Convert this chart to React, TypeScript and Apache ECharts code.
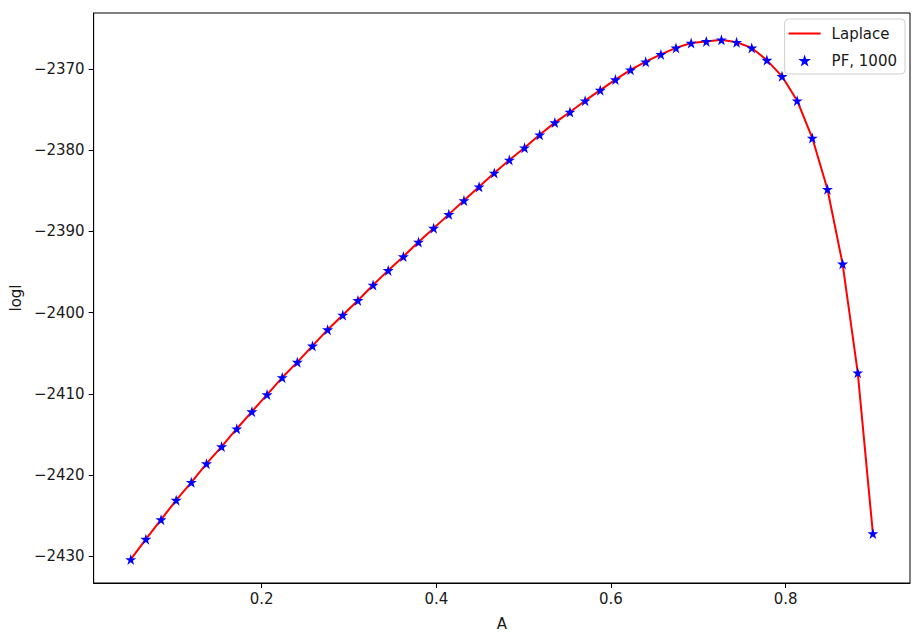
import React, { useEffect, useRef } from "react";
import * as echarts from "echarts";

const aValues: number[] = [
  0.05, 0.06735, 0.08469, 0.10204, 0.11939, 0.13673, 0.15408, 0.17143, 0.18878, 0.20612,
  0.22347, 0.24082, 0.25816, 0.27551, 0.29286, 0.31020, 0.32755, 0.34490, 0.36224, 0.37959,
  0.39694, 0.41429, 0.43163, 0.44898, 0.46633, 0.48367, 0.50102, 0.51837, 0.53571, 0.55306,
  0.57041, 0.58776, 0.60510, 0.62245, 0.63980, 0.65714, 0.67449, 0.69184, 0.70918, 0.72653,
  0.74388, 0.76122, 0.77857, 0.79592, 0.81327, 0.83061, 0.84796, 0.86531, 0.88265, 0.9,
];

const laplaceValues: number[] = [
  -2430.4, -2427.9, -2425.5, -2423.1, -2420.9, -2418.6, -2416.5, -2414.3, -2412.2, -2410.1,
  -2408.0, -2406.1, -2404.1, -2402.1, -2400.3, -2398.5, -2396.6, -2394.8, -2393.1, -2391.3,
  -2389.6, -2387.9, -2386.2, -2384.5, -2382.8, -2381.2, -2379.7, -2378.1, -2376.6, -2375.3,
  -2373.9, -2372.6, -2371.3, -2370.1, -2369.1, -2368.2, -2367.4, -2366.8, -2366.6, -2366.4,
  -2366.7, -2367.4, -2368.9, -2370.9, -2373.9, -2378.5, -2384.8, -2394.0, -2407.4, -2427.2,
];

const pfValues: number[] = laplaceValues.slice();

const xTicks: number[] = [0.2, 0.4, 0.6, 0.8];
const yTicks: number[] = [-2430, -2420, -2410, -2400, -2390, -2380, -2370];

const STAR =
  "path://M50,0 L61.8,36.2 L100,36.2 L69.1,58.8 L80.9,95.1 L50,72.7 L19.1,95.1 L30.9,58.8 L0,36.2 L38.2,36.2 Z";

const FONT = "DejaVu Sans";
const TXT = "#1a1a1a";

const fmtMinus = (v: number) => (v < 0 ? "\u2212" + String(Math.abs(v)) : String(v));

export default function App() {
  const ref = useRef<HTMLDivElement>(null);
  useEffect(() => {
    if (!ref.current) return;
    const chart = echarts.init(ref.current, undefined, { renderer: "svg" });
    const lineData = aValues.map((a, i) => [a, laplaceValues[i]]);
    const pfData = aValues.map((a, i) => [a, pfValues[i]]);
    chart.setOption({
      animation: false,
      backgroundColor: "#ffffff",
      grid: {
        left: 91,
        right: 5,
        top: 13,
        bottom: 51,
        show: true,
        borderColor: "#000",
        borderWidth: 1,
        backgroundColor: "transparent",
      },
      xAxis: {
        type: "value",
        min: 0.0075,
        max: 0.9425,
        name: "A",
        nameLocation: "middle",
        nameGap: 33,
        nameTextStyle: { fontFamily: FONT, fontSize: 15, color: TXT },
        axisLine: { show: true, onZero: false, lineStyle: { color: "#000", width: 1 } },
        axisTick: {
          show: true,
          inside: false,
          length: 5,
          customValues: xTicks,
          lineStyle: { color: "#000", width: 1 },
        },
        axisLabel: {
          customValues: xTicks,
          fontFamily: FONT,
          fontSize: 15,
          color: TXT,
          margin: 8,
          formatter: (v: number) => v.toFixed(1),
        },
        splitLine: { show: false },
      },
      yAxis: {
        type: "value",
        min: -2433.3,
        max: -2363.1,
        name: "logl",
        nameLocation: "middle",
        nameRotate: 90,
        nameGap: 70,
        nameTextStyle: { fontFamily: FONT, fontSize: 15, color: TXT },
        axisLine: { show: true, onZero: false, lineStyle: { color: "#000", width: 1 } },
        axisTick: {
          show: true,
          inside: false,
          length: 5,
          customValues: yTicks,
          lineStyle: { color: "#000", width: 1 },
        },
        axisLabel: {
          customValues: yTicks,
          fontFamily: FONT,
          fontSize: 15,
          color: TXT,
          margin: 9,
          formatter: (v: number) => fmtMinus(v),
        },
        splitLine: { show: false },
      },
      legend: {
        orient: "vertical",
        right: 10,
        top: 19,
        padding: [7, 8, 6, 4],
        itemWidth: 32,
        itemHeight: 12,
        itemGap: 12,
        borderColor: "#d0d0d0",
        borderWidth: 1,
        borderRadius: 4,
        backgroundColor: "rgba(255,255,255,0.8)",
        textStyle: { fontFamily: FONT, fontSize: 15, color: TXT, padding: [0, 0, 0, 6] },
        data: [
          { name: "Laplace", icon: "path://M0,5 L32,5 L32,7 L0,7 Z", itemStyle: { color: "#ff0000" } },
          { name: "PF, 1000", icon: STAR, itemStyle: { color: "#0000ff", opacity: 1 } },
        ],
      },
      series: [
        {
          name: "Laplace",
          type: "line",
          data: lineData,
          showSymbol: false,
          symbol: "none",
          smooth: false,
          lineStyle: { color: "#ff0000", width: 2 },
          itemStyle: { color: "#ff0000" },
          z: 2,
        },
        {
          name: "PF, 1000",
          type: "scatter",
          data: pfData,
          symbol: STAR,
          symbolSize: 11,
          itemStyle: { color: "#0000ff", opacity: 1 },
          z: 3,
        },
      ],
    });
    return () => chart.dispose();
  }, []);
  return (
    <div
      ref={ref}
      style={{ position: "fixed", left: 0, top: 0, width: 915, height: 636 }}
    />
  );
}
